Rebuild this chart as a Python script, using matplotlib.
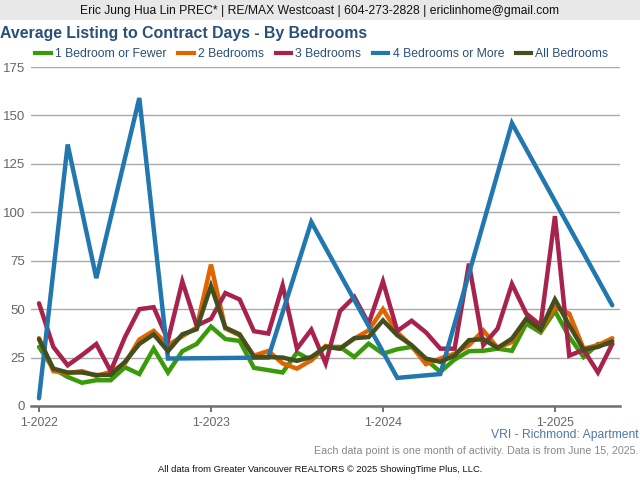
import matplotlib
matplotlib.use("Agg")
import matplotlib.pyplot as plt
from matplotlib.patches import Rectangle

plt.rcParams['font.family'] = ['Liberation Sans', 'DejaVu Sans']

months = list(range(41))
one_bed = [30.5,19.3,15,12,13.3,13.3,20,16.5,29.6,17.3,28.3,32,41,34.6,33.6,19.7,18.5,17.3,27.6,23.6,30.5,30.5,25.3,32.2,27,29.3,30.5,24,17.6,24,28.3,28.5,29.6,28.5,42.5,38,49,35.7,25.3,32,32]
two_bed = [35,18,17,18,15.5,17.6,22,34.3,38.8,31.4,36,40.5,73,40,36.5,26,28.4,22,19.3,23.6,31,29.6,34.8,39,50,38,31,21.6,24.5,27,31.4,39,30,33,45,39,51,47.7,29.6,31.4,35]
three_bed = [53,30.5,21,26.3,32,18,35.6,50,51,34,64.3,41.5,45,58.3,55,38.6,37.4,62.3,29.6,39.4,22,49,56.3,42.5,64.3,38.7,44,38,29.6,29.6,73.5,31.4,40,63,47.7,41.7,98,26,29,17.3,32]
four_months = [0,2,4,7,9,16,19,25,28,33,40]
four_bed = [4,135,66,159,24.5,25,95,14.5,16.5,146,52]
all_bed = [34.5,19.3,17.3,17.3,16,16,22.8,32,37,28.3,37,39.6,62,40.5,37,25.3,25.3,25,23.3,25.3,30.5,29.6,35,35.6,44.2,36.5,31.4,24.5,22.8,26,34,34.5,30,34.8,45,39.4,55,41.7,29,30.5,33.4]
y_ticks = [0,25,50,75,100,125,150,175]
x_tick_months = [0,12,24,36]
x_tick_labels = ['1-2022','1-2023','1-2024','1-2025']
names = ['1 Bedroom or Fewer','2 Bedrooms','3 Bedrooms','4 Bedrooms or More','All Bedrooms']
colors = ['#3a9b0a','#e06400','#a8234c','#2277ae','#444f1f']

W, H = 640, 480
fig = plt.figure(figsize=(6.4,4.8), dpi=100)
left, right, top, bottom = 31, 620, 67, 406
ax = fig.add_axes([left/W, 1-bottom/H, (right-left)/W, (bottom-top)/H])
ax.set_xlim(-0.558, 40.54)
ax.set_ylim(0, 175)

series = [(months,one_bed),(months,two_bed),(months,three_bed),(four_months,four_bed),(months,all_bed)]
handles = []
for (x,y),c,n in zip(series,colors,names):
    h, = ax.plot(x,y,color=c,lw=3.2,label=n,solid_joinstyle='miter',solid_capstyle='round',clip_on=False,zorder=3)
    handles.append(h)

ax.set_yticks(y_ticks)
ax.set_xticks(x_tick_months)
ax.set_xticklabels(x_tick_labels)
ax.grid(axis='y',color='#aaaaaa',lw=1)
ax.set_axisbelow(True)
for s in ['top','left','right']:
    ax.spines[s].set_visible(False)
ax.spines['bottom'].set_color('#707070')
ax.spines['bottom'].set_linewidth(1.8)
ax.tick_params(axis='x',length=4,width=1.4,color='#707070',labelcolor='#666666',labelsize=8.8,pad=4)
ax.tick_params(axis='y',length=0,labelcolor='#666666',labelsize=9.5,pad=4.5)

fig.add_artist(Rectangle((0,1-20/H),1,20/H,transform=fig.transFigure,color='#e8e8e8',lw=0,zorder=-1))
def px(x,y,s,**k):
    fig.text(x/W,1-y/H,s,va='center',**k)
px(320,11,'Eric Jung Hua Lin PREC* | RE/MAX Westcoast | 604-273-2828 | ericlinhome@gmail.com',ha='center',fontsize=8.75,color='#111111')
px(0,33.5,'Average Listing to Contract Days - By Bedrooms',ha='left',fontsize=11.45,fontweight='bold',color='#2a4f78')
px(639,435,'VRI - Richmond: Apartment',ha='right',fontsize=8.7,color='#4f78a8')
px(638,451,'Each data point is one month of activity. Data is from June 15, 2025.',ha='right',fontsize=7.62,color='#888888')
px(320,470,'All data from Greater Vancouver REALTORS \u00a9 2025 ShowingTime Plus, LLC.',ha='center',fontsize=6.75,color='#111111')

leg = fig.legend(handles=[plt.Line2D([],[],color=c,lw=3) for c in colors],labels=names,ncol=5,
    loc='center',bbox_to_anchor=(322/W,1-54/H),frameon=False,fontsize=8.85,labelcolor='#2a4f78',
    handlelength=1.25,handletextpad=0.35,columnspacing=0.95,borderpad=0)
fig.savefig('out.png',dpi=100)
